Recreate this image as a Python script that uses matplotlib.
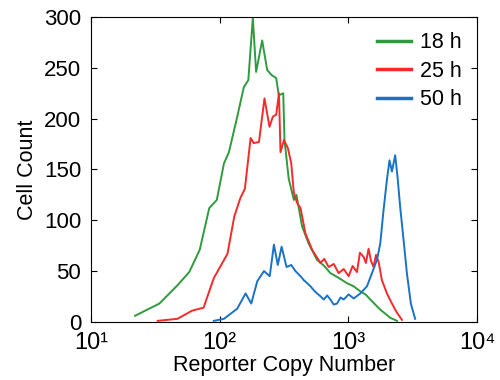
import numpy as np
import matplotlib
matplotlib.use('Agg')
import matplotlib.pyplot as plt
from matplotlib.ticker import FixedLocator, FixedFormatter

plt.rcParams['font.family'] = ['Liberation Sans', 'DejaVu Sans']

# 18 h
x18 = [22, 34, 47, 58, 70, 83, 95, 108, 118, 137, 154, 167, 181, 192, 214, 234,
       253, 275, 288, 312, 319, 344, 377, 395, 437, 492, 571, 650, 725, 850, 977,
       1100, 1240, 1360, 1482, 1620, 1770, 1940, 2117, 2388]
y18 = [6, 18, 36, 49, 71, 112, 120, 156, 167, 202, 231, 238, 299, 246, 277, 248,
       243, 240, 223, 225, 179, 141, 120, 125, 94, 77, 61, 55, 48, 43, 38,
       35, 30, 27, 22, 17, 12, 8, 4, 1]

# 25 h
x25 = [33, 47, 61, 75, 90, 115, 130, 145, 157, 174, 184, 202, 223, 244, 259,
       275, 289, 297, 316, 339, 360, 377, 400, 425, 464, 523, 607, 650, 703, 770,
       840, 920, 1005, 1080, 1167, 1230, 1314, 1370, 1437, 1500, 1571, 1640,
       1719, 1824, 1995, 2182, 2388, 2610]
y25 = [1, 3, 11, 14, 43, 67, 104, 122, 131, 181, 176, 177, 220, 192, 202,
       204, 225, 167, 179, 171, 156, 127, 117, 112, 87, 71, 58, 62, 54, 57,
       48, 52, 45, 55, 49, 68, 64, 58, 72, 60, 54, 66,
       59, 41, 28, 18, 9, 2]

# 50 h
x50 = [90, 108, 137, 159, 176, 196, 221, 245, 264, 283, 303, 331, 360, 388,
       425, 451, 480, 508, 540, 571, 610, 644, 685, 725, 770, 817, 870, 920,
       1005, 1100, 1240, 1396, 1527, 1669, 1770, 1878, 1995, 2090, 2182, 2312,
       2410, 2529, 2685, 2851, 3062, 3305]
y50 = [1, 3, 13, 28, 18, 40, 50, 45, 76, 56, 74, 54, 56, 50,
       45, 41, 38, 35, 31, 28, 25, 22, 26, 22, 17, 18, 24, 22,
       27, 23, 28, 35, 48, 61, 77, 110, 140, 159, 148, 164,
       143, 113, 81, 48, 18, 3]

xticks = [10, 100, 1000, 10000]
xticklabels = ['10¹', '10²', '10³', '10⁴']
yticks = [0, 50, 100, 150, 200, 250, 300]

fig = plt.figure(figsize=(5, 3.8), dpi=100)
ax = fig.add_axes([0.182, 0.153, 0.772, 0.802])

ax.plot(x18, y18, color='#2e9b3e', linewidth=1.4, label='18 h')
ax.plot(x25, y25, color='#f52a2a', linewidth=1.4, label='25 h')
ax.plot(x50, y50, color='#1a72c8', linewidth=1.4, label='50 h')

ax.set_xscale('log')
ax.set_xlim(10, 1e4)
ax.set_ylim(0, 300)
ax.xaxis.set_major_locator(FixedLocator(xticks))
ax.xaxis.set_major_formatter(FixedFormatter(xticklabels))
ax.set_yticks(yticks)
ax.minorticks_off()
ax.tick_params(direction='in', top=True, right=True, labelsize=17, length=4)
ax.tick_params(axis='x', pad=7)
ax.tick_params(axis='y', pad=7, labelsize=16)
ax.set_xlabel('Reporter Copy Number', fontsize=15.5, labelpad=1)
ax.set_ylabel('Cell Count', fontsize=15.5, labelpad=4)
leg = ax.legend(loc='upper right', frameon=False, fontsize=15.5, handlelength=1.6,
                labelspacing=0.35, borderaxespad=0.3, handletextpad=0.4)
for line in leg.get_lines():
    line.set_linewidth(2.5)

plt.savefig('out.png', dpi=100)
